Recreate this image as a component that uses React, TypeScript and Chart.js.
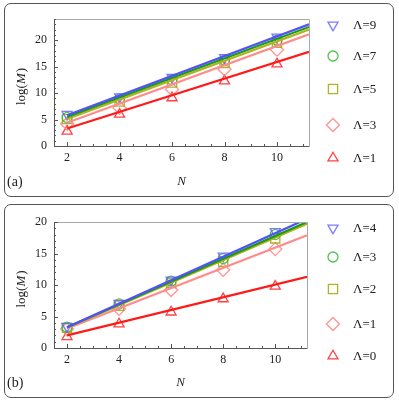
import React, { useEffect, useRef } from 'react';
import { Chart, registerables } from 'chart.js';

Chart.register(...registerables);

// ---------- data ----------
const N_VALUES = [2, 4, 6, 8, 10];
const FIT_X = [2, 11.22];
const X_MIN = 1.5;
const X_MAX = 11.22;

const LABELS_A = ['Λ=9', 'Λ=7', 'Λ=5', 'Λ=3', 'Λ=1'];
const A_L9 = [6.0, 9.3, 13.0, 16.7, 20.6];
const A_L7 = [5.4, 8.9, 12.5, 16.2, 20.0];
const A_L5 = [5.1, 8.4, 12.0, 15.7, 19.5];
const A_L3 = [4.2, 7.2, 10.7, 14.5, 18.2];
const A_L1 = [2.8, 6.0, 9.1, 12.3, 15.5];
const A_FIT9 = [5.8, 23.0];
const A_FIT7 = [5.5, 22.5];
const A_FIT5 = [5.1, 22.0];
const A_FIT3 = [4.4, 21.1];
const A_FIT1 = [3.3, 17.8];
const A_Y_MAX = 24;

const LABELS_B = ['Λ=4', 'Λ=3', 'Λ=2', 'Λ=1', 'Λ=0'];
const B_L4 = [3.4, 7.1, 10.8, 14.6, 18.5];
const B_L3 = [3.3, 7.0, 10.6, 14.2, 18.0];
const B_L2 = [3.2, 6.7, 10.3, 13.7, 17.4];
const B_L1 = [3.0, 6.2, 9.2, 12.4, 15.7];
const B_L0 = [1.8, 3.8, 5.7, 7.8, 9.8];
const B_FIT4 = [3.3, 20.5];
const B_FIT3 = [3.3, 20.0];
const B_FIT2 = [3.2, 19.7];
const B_FIT1 = [3.1, 17.9];
const B_FIT0 = [2.0, 11.3];
const B_Y_MAX = 20;

const X_TICK_STEP = 2;
const Y_TICK_STEP = 5;

// ---------- styles ----------
const LINE_COLORS = ['#5050ff', '#1c9a1c', '#b2b21e', '#ff8c8c', '#ff1a1a'];
const MARK_COLORS = ['rgba(100,100,255,0.85)', 'rgba(50,185,50,0.85)', 'rgba(168,168,20,0.9)', 'rgba(255,135,135,0.9)', 'rgba(255,45,45,0.9)'];
const POINT_STYLES = ['triangle', 'circle', 'rect', 'rectRot', 'triangle'];
const ROTATIONS = [180, 0, 0, 0, 0];
const RADII = [5.8, 5, 6.5, 6.5, 5.8];
const FONT = '"Liberation Serif", "DejaVu Serif", serif';

function drawMarker(ctx: CanvasRenderingContext2D, i: number, x: number, y: number) {
  const r = RADII[i];
  ctx.save();
  ctx.strokeStyle = MARK_COLORS[i];
  ctx.lineWidth = 1.3;
  ctx.beginPath();
  const st = POINT_STYLES[i];
  if (st === 'circle') {
    ctx.arc(x, y, r, 0, Math.PI * 2);
  } else if (st === 'rect') {
    const s = Math.SQRT1_2 * r;
    ctx.rect(x - s, y - s, 2 * s, 2 * s);
  } else if (st === 'rectRot') {
    ctx.moveTo(x, y - r);
    ctx.lineTo(x + r, y);
    ctx.lineTo(x, y + r);
    ctx.lineTo(x - r, y);
    ctx.closePath();
  } else {
    let rad = (ROTATIONS[i] * Math.PI) / 180;
    ctx.moveTo(x + Math.sin(rad) * r, y - Math.cos(rad) * r);
    rad += (2 * Math.PI) / 3;
    ctx.lineTo(x + Math.sin(rad) * r, y - Math.cos(rad) * r);
    rad += (2 * Math.PI) / 3;
    ctx.lineTo(x + Math.sin(rad) * r, y - Math.cos(rad) * r);
    ctx.closePath();
  }
  ctx.stroke();
  ctx.restore();
}

type PanelProps = {
  top: number;
  labels: string[];
  markers: number[][];
  fits: number[][];
  yMax: number;
  area: { top: number; bottom: number; right: number };
  legendY: number[];
  tag: string;
};

function Panel({ top, labels, markers, fits, yMax, area, legendY, tag }: PanelProps) {
  const ref = useRef<HTMLCanvasElement | null>(null);
  useEffect(() => {
    if (!ref.current) return;
    const datasets: any[] = [];
    fits.forEach((f, i) => {
      datasets.push({
        label: labels[i] + ' fit',
        data: FIT_X.map((x, k) => ({ x, y: f[k] })),
        showLine: true,
        borderColor: LINE_COLORS[i],
        borderWidth: 2.2,
        pointRadius: 0,
        fill: false,
      });
    });
    markers.forEach((m, i) => {
      datasets.push({
        label: labels[i],
        data: N_VALUES.map((x, k) => ({ x, y: m[k] })),
        showLine: false,
        pointStyle: POINT_STYLES[i],
        rotation: ROTATIONS[i],
        pointRadius: RADII[i],
        pointBorderColor: MARK_COLORS[i],
        pointBackgroundColor: 'rgba(0,0,0,0)',
        pointBorderWidth: 1.3,
        borderColor: MARK_COLORS[i],
      });
    });

    const framePlugin = {
      id: 'frame',
      afterDraw(chart: any) {
        const { ctx, chartArea: ca, scales } = chart;
        const xs = scales.x;
        const ys = scales.y;
        ctx.save();
        // frame
        ctx.strokeStyle = '#a8a8a8';
        ctx.lineWidth = 1;
        ctx.beginPath();
        ctx.moveTo(ca.left, ca.top + 0.5);
        ctx.lineTo(ca.right + 0.5, ca.top + 0.5);
        ctx.lineTo(ca.right + 0.5, ca.bottom);
        ctx.stroke();
        ctx.strokeStyle = '#555';
        ctx.beginPath();
        ctx.moveTo(ca.left + 0.5, ca.top);
        ctx.lineTo(ca.left + 0.5, ca.bottom + 0.5);
        ctx.lineTo(ca.right + 0.5, ca.bottom + 0.5);
        ctx.stroke();
        // ticks (inward)
        ctx.strokeStyle = '#555';
        ctx.beginPath();
        for (let v = 0; v <= yMax + 1e-6; v += 1) {
          const py = Math.round(ys.getPixelForValue(v)) + 0.5;
          const len = v % Y_TICK_STEP === 0 ? 4 : 2;
          ctx.moveTo(ca.left, py);
          ctx.lineTo(ca.left + len, py);
        }
        for (let v = 1.5; v <= X_MAX + 1e-6; v += 0.5) {
          const px = Math.round(xs.getPixelForValue(v)) + 0.5;
          const len = Math.abs(v % X_TICK_STEP) < 1e-6 ? 4 : 2;
          ctx.moveTo(px, ca.bottom);
          ctx.lineTo(px, ca.bottom - len);
        }
        ctx.stroke();
        // axis titles
        ctx.fillStyle = '#222';
        ctx.textBaseline = 'middle';
        ctx.font = 'italic 13px ' + FONT;
        ctx.textAlign = 'center';
        ctx.fillText('N', (ca.left + ca.right) / 2, 182);
        ctx.save();
        ctx.translate(22, (ca.top + ca.bottom) / 2 + 4);
        ctx.rotate(-Math.PI / 2);
        ctx.textAlign = 'left';
        ctx.font = '13px ' + FONT;
        const w1 = ctx.measureText('log(').width;
        ctx.font = 'italic 13px ' + FONT;
        const w2 = ctx.measureText('M').width;
        ctx.font = '13px ' + FONT;
        const w3 = ctx.measureText(')').width;
        let x0 = -(w1 + w2 + w3 + 1) / 2;
        ctx.fillText('log(', x0, 0);
        x0 += w1;
        ctx.font = 'italic 13px ' + FONT;
        ctx.fillText('M', x0, 0);
        x0 += w2 + 1;
        ctx.font = '13px ' + FONT;
        ctx.fillText(')', x0, 0);
        ctx.restore();
        // panel tag
        ctx.font = '14px ' + FONT;
        ctx.textAlign = 'left';
        ctx.fillText(tag, 7, 182);
        // legend
        ctx.font = '13px ' + FONT;
        labels.forEach((lab, i) => {
          drawMarker(ctx, i, 333, legendY[i]);
          ctx.fillStyle = '#222';
          ctx.fillText(lab, 353, legendY[i] + 1);
        });
        ctx.restore();
      },
    };

    const chart = new Chart(ref.current, {
      type: 'scatter',
      data: { datasets },
      options: {
        responsive: false,
        animation: false,
        layout: { padding: { top: area.top, right: 399 - area.right, bottom: 0, left: 0 } },
        plugins: { legend: { display: false }, tooltip: { enabled: false } },
        scales: {
          x: {
            type: 'linear',
            min: X_MIN,
            max: X_MAX,
            grid: { display: false, drawTicks: false },
            border: { display: false },
            ticks: { stepSize: X_TICK_STEP, includeBounds: false, padding: 5, color: '#222', font: { family: FONT, size: 12 }, maxRotation: 0 },
            afterFit: (s: any) => { s.height = 200 - area.bottom; },
          },
          y: {
            type: 'linear',
            min: 0,
            max: yMax,
            grid: { display: false, drawTicks: false },
            border: { display: false },
            ticks: { stepSize: Y_TICK_STEP, includeBounds: false, padding: 7, color: '#222', font: { family: FONT, size: 12 } },
            afterFit: (s: any) => { s.width = 54; },
          },
        },
      } as any,
      plugins: [framePlugin],
    });
    return () => chart.destroy();
  }, []);

  return (
    <div style={{ position: 'absolute', left: 0, top, width: 399, height: 200 }}>
      <div style={{ position: 'absolute', left: 4, top: 3, width: 388, height: 192, border: '1.5px solid #555', borderRadius: 7 }} />
      <canvas ref={ref} width={399} height={200} style={{ position: 'absolute', left: 0, top: 0, width: 399, height: 200 }} />
    </div>
  );
}

export default function App() {
  return (
    <div style={{ position: 'absolute', left: 0, top: 0, width: 399, height: 405, background: '#fff' }}>
      <Panel
        top={0}
        labels={LABELS_A}
        markers={[A_L9, A_L7, A_L5, A_L3, A_L1]}
        fits={[A_FIT9, A_FIT7, A_FIT5, A_FIT3, A_FIT1]}
        yMax={A_Y_MAX}
        area={{ top: 19, bottom: 146, right: 309 }}
        legendY={[25, 56, 89, 125, 158]}
        tag="(a)"
      />
      <Panel
        top={201}
        labels={LABELS_B}
        markers={[B_L4, B_L3, B_L2, B_L1, B_L0]}
        fits={[B_FIT4, B_FIT3, B_FIT2, B_FIT1, B_FIT0]}
        yMax={B_Y_MAX}
        area={{ top: 21, bottom: 147, right: 307 }}
        legendY={[27, 56, 88, 123, 155]}
        tag="(b)"
      />
    </div>
  );
}
